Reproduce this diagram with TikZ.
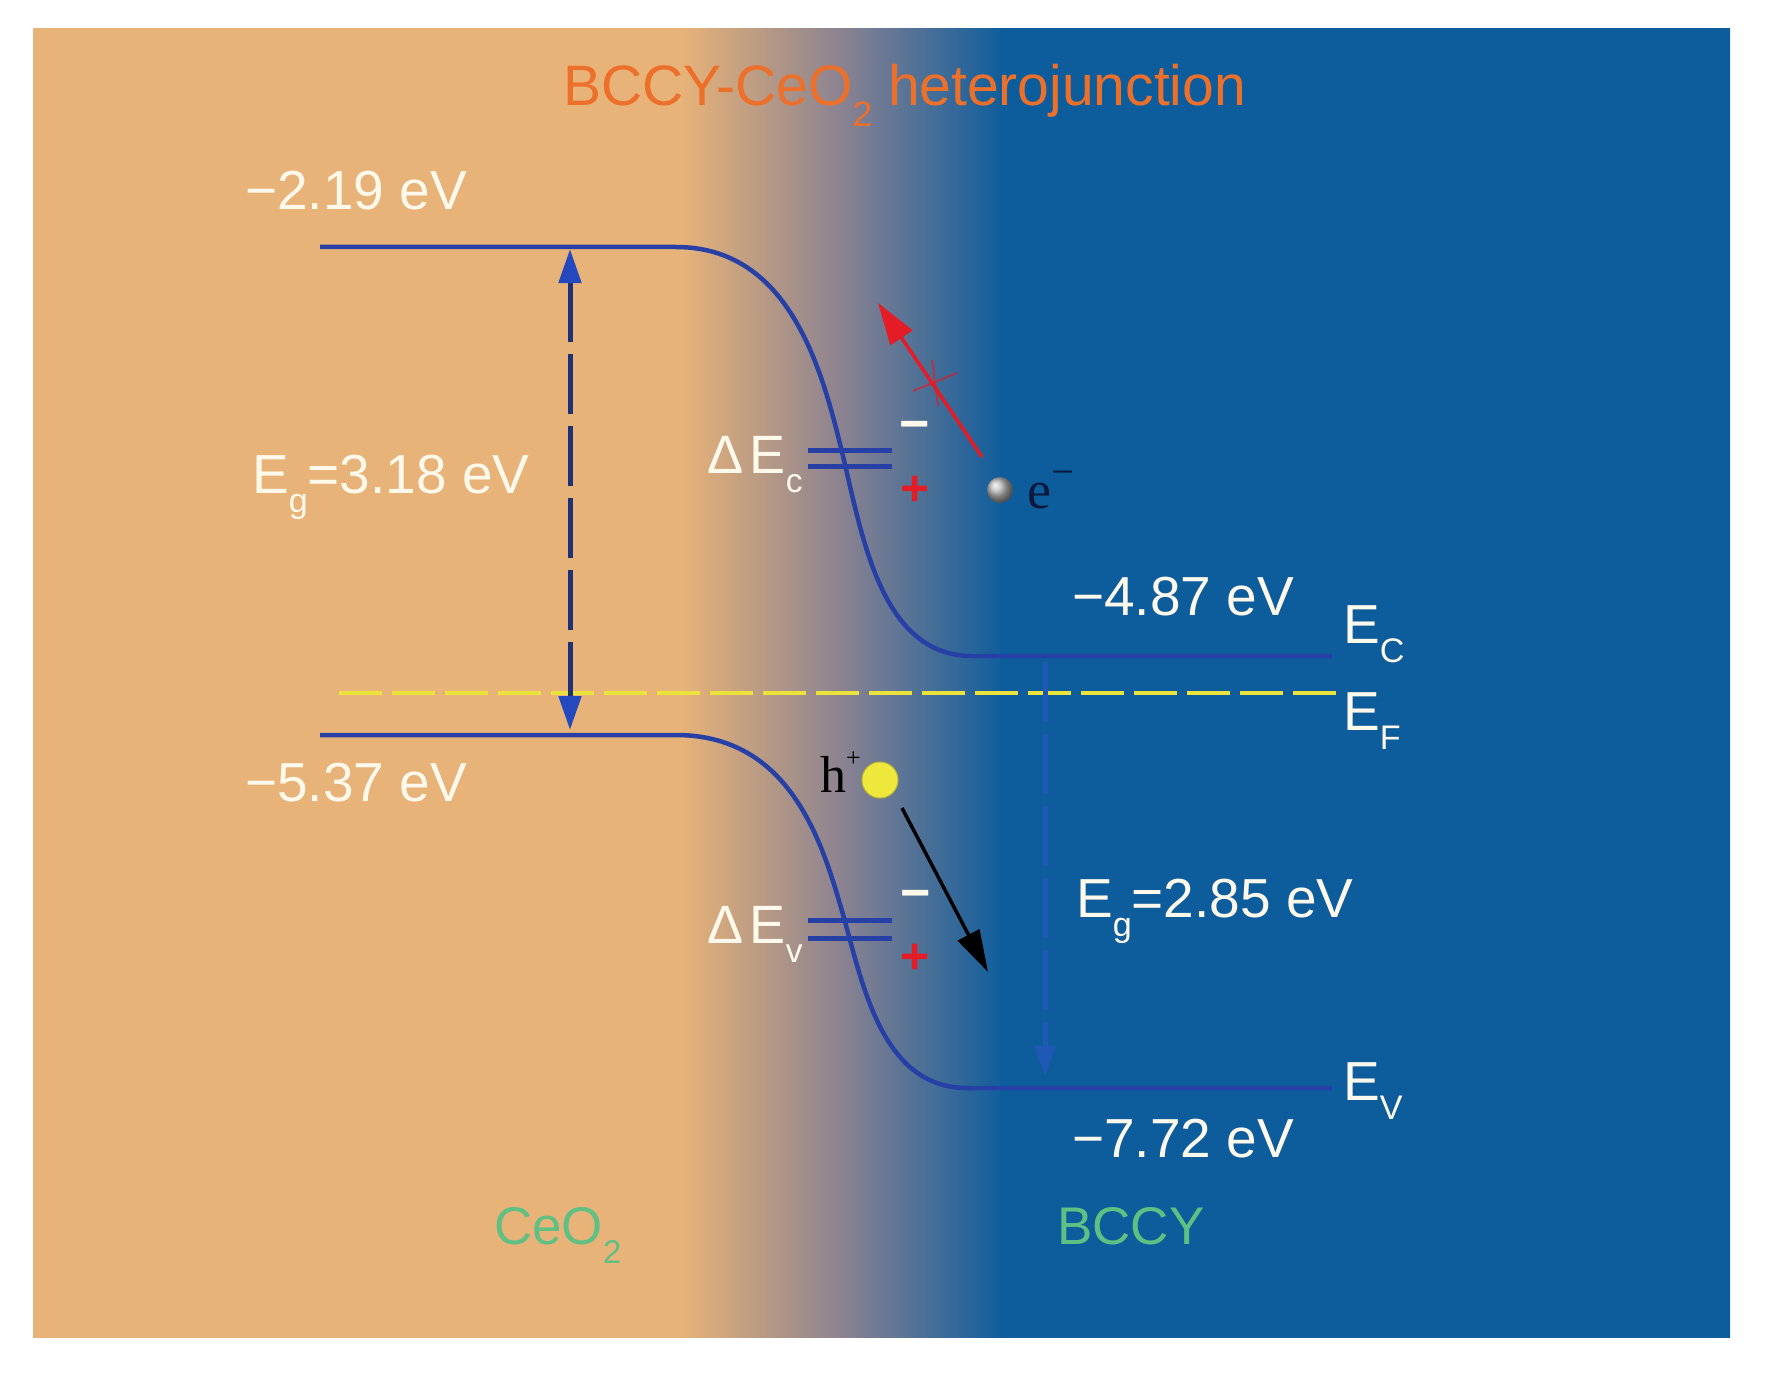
\documentclass[tikz,border=0pt]{standalone}
\usepackage{fontspec}
\usepackage{graphicx}
\setmainfont{Liberation Sans}
\newfontfamily\serifx{Liberation Serif}
\usetikzlibrary{arrows.meta}
\definecolor{bgor}{RGB}{232,179,120}
\definecolor{bgbl}{RGB}{13,93,157}
\definecolor{bgmid}{RGB}{138,130,145}
\definecolor{band}{RGB}{38,64,165}
\definecolor{banddk}{RGB}{30,50,115}
\definecolor{fermi}{RGB}{236,226,60}
\definecolor{titleor}{RGB}{236,112,42}
\definecolor{labwh}{RGB}{255,249,236}
\definecolor{labgr}{RGB}{96,192,132}
\definecolor{redar}{RGB}{228,28,38}
\definecolor{arrbl}{RGB}{36,72,190}
\definecolor{arrbltwo}{RGB}{32,88,182}
\definecolor{holey}{RGB}{238,232,60}
\definecolor{edark}{RGB}{10,25,60}
\newcommand\dn[1]{\raisebox{-0.36em}{\scalebox{0.62}{#1}}}
\newcommand\upx[1]{\raisebox{0.5em}{\scalebox{0.5}{#1}}}
\newcommand\upe[1]{\raisebox{0.42em}{\scalebox{0.75}{#1}}}
\tikzset{
  lab/.style={text=labwh, font=\fontsize{55}{60}\selectfont, anchor=base west, inner sep=0pt},
  greenlab/.style={text=labgr, font=\fontsize{53}{60}\selectfont, anchor=base west, inner sep=0pt},
  bandline/.style={draw=band, line width=4.5pt, line join=round},
  fermiline/.style={draw=fermi, line width=3.5pt, dash pattern=on 43pt off 10pt},
  gaparrow/.style={draw=banddk, line width=5pt, dash pattern=on 60pt off 12pt,
     {Triangle[length=34pt,width=22pt,color=arrbl]}-{Triangle[length=34pt,width=22pt,color=arrbl]}},
  gaparrowtwo/.style={draw=arrbltwo, line width=5pt, dash pattern=on 60pt off 12pt,
     -{Triangle[length=30pt,width=20pt]}},
  offsetbar/.style={draw=band, line width=5pt},
  redmove/.style={draw=redar, line width=3.5pt, -{Triangle[length=42pt,width=26pt]}},
  blackmove/.style={draw=black, line width=3.5pt, -{Triangle[length=42pt,width=24pt]}},
  plussign/.style={text=redar, font=\bfseries\fontsize{50}{50}\selectfont, inner sep=0pt, anchor=center},
  minussign/.style={text=labwh, font=\bfseries\fontsize{52}{52}\selectfont, inner sep=0pt, anchor=center},
  crossmark/.style={draw=redar, line width=1.8pt, opacity=0.7}
}
\begin{document}
\begin{tikzpicture}[x=1pt,y=-1pt]
\useasboundingbox[fill=white] (0,0) rectangle (1773,1375);
% background
\begin{scope}
\clip (33,29) rectangle (1730,1337);
\fill[bgor] (20,10) rectangle (690,1360);
\shade[left color=bgor,right color=bgbl,middle color=bgmid] (680,10) rectangle (1006,1360);
\fill[bgbl] (1000,10) rectangle (1750,1360);
\end{scope}

% title
\node[text=titleor, font=\fontsize{57}{60}\selectfont, anchor=base west, inner sep=0pt] (title) at (563,106) {BCCY-CeO\dn{2} heterojunction};

% bands
\draw[bandline] (320,247) -- (676,247) .. controls (790,247) and (822,370) .. (842,452)
   .. controls (862,534) and (880,656) .. (972,656) -- (1332,656);
\draw[bandline] (320,735) -- (676,735) .. controls (790,735) and (822,842) .. (842,911)
   .. controls (862,980) and (880,1088) .. (967,1088) -- (1332,1088);
% Fermi level
\coordinate (fA) at (339,693);
\coordinate (fB) at (1340,693);
\draw[fermiline] (fA) -- (fB);

% gap arrows
\coordinate (gA) at (570,249);
\coordinate (gB) at (570,730);
\draw[gaparrow] (gA) -- (gB);
\coordinate (hA) at (1045,662);
\coordinate (hB) at (1045,1076);
\draw[gaparrowtwo] (hA) -- (hB);

% band offsets
\coordinate (c1a) at (808,450); \coordinate (c1b) at (892,450);
\coordinate (c2a) at (808,466); \coordinate (c2b) at (892,466);
\draw[offsetbar] (c1a) -- (c1b);
\draw[offsetbar] (c2a) -- (c2b);
\coordinate (v1a) at (808,920); \coordinate (v1b) at (892,920);
\coordinate (v2a) at (808,938); \coordinate (v2b) at (892,938);
\draw[offsetbar] (v1a) -- (v1b);
\draw[offsetbar] (v2a) -- (v2b);

\node[minussign] (mc) at (915,431) {−};
\node[plussign] (pc) at (915,491) {+};
\node[minussign] (mv) at (916,900) {−};
\node[plussign] (pv) at (915,959) {+};

% electron
\shade[ball color=gray!55!white] (1000,490) circle (13);
\node[font=\serifx\fontsize{54}{60}\selectfont, text=edark, anchor=base west, inner sep=0pt] (le) at (1027,508) {e\upe{−}};
\coordinate (rA) at (982,457);
\coordinate (rB) at (878,303);
\draw[redmove] (rA) -- (rB);
\coordinate (xA) at (932,360); \coordinate (xB) at (938,406);
\coordinate (xC) at (913,391); \coordinate (xD) at (957,373);
\draw[crossmark] (xA) -- (xB);
\draw[crossmark] (xC) -- (xD);

% hole
\node[font=\serifx\fontsize{52}{60}\selectfont, text=black, anchor=base west, inner sep=0pt] (lh) at (820,792) {h\upx{+}};
\fill[holey, draw=holey!80!black, line width=1pt] (880,780) circle (18);
\coordinate (kA) at (902,808);
\coordinate (kB) at (988,972);
\draw[blackmove] (kA) -- (kB);

% labels
\node[lab] (l219) at (245,210) {−2.19 eV};
\node[lab] (l537) at (245,801) {−5.37 eV};
\node[lab] (lEgA) at (252,493) {E\dn{g}=3.18 eV};
\node[lab, font=\fontsize{54}{60}\selectfont] (lDEc) at (707,473) {Δ\hspace{0.12em}E\dn{c}};
\node[lab, font=\fontsize{54}{60}\selectfont] (lDEv) at (707,943) {Δ\hspace{0.12em}E\dn{v}};
\node[lab] (l487) at (1072,615) {−4.87 eV};
\node[lab] (lEc) at (1343,643) {E\dn{C}};
\node[lab] (lEF) at (1343,730) {E\dn{F}};
\node[lab] (lEgB) at (1076,917) {E\dn{g}=2.85 eV};
\node[lab] (lEv) at (1343,1100) {E\dn{V}};
\node[lab] (l772) at (1072,1157) {−7.72 eV};
\node[greenlab] (lCeO) at (494,1244) {CeO\dn{2}};
\node[greenlab] (lBCCY) at (1057,1244) {BCCY};
\end{tikzpicture}
\end{document}
